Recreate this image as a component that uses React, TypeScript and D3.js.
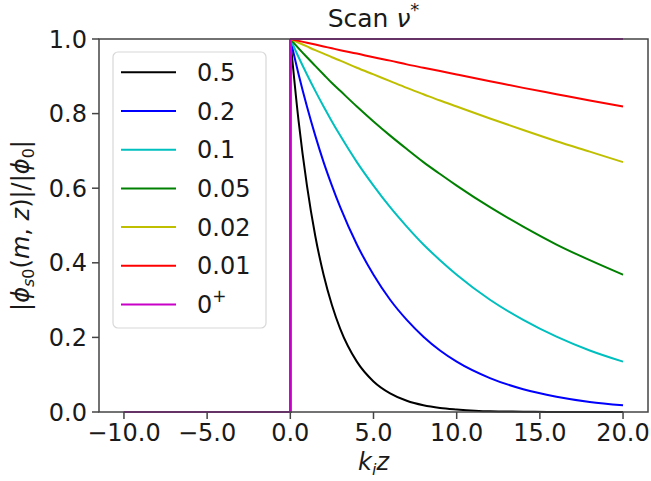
import React from "react";
import * as d3 from "d3";

const zGrid = [0, 0.5, 1, 1.5, 2, 2.5, 3, 4, 5, 6, 7, 8, 9, 10, 12, 14, 16, 18, 20];
const seriesLabels = ["0.5", "0.2", "0.1", "0.05", "0.02", "0.01", "0+"];
const seriesColors = ["#000000", "#0000ff", "#00bfbf", "#008000", "#bfbf00", "#ff0000", "#c800c8"];
const v05 = [1, 0.779, 0.607, 0.472, 0.368, 0.287, 0.223, 0.135, 0.082, 0.05, 0.03, 0.018, 0.011, 0.007, 0.002, 0.001, 0.0, 0.0, 0.0];
const v02 = [1, 0.905, 0.819, 0.741, 0.67, 0.607, 0.549, 0.449, 0.368, 0.301, 0.247, 0.202, 0.165, 0.135, 0.091, 0.061, 0.041, 0.027, 0.018];
const v01 = [1, 0.951, 0.905, 0.861, 0.819, 0.779, 0.741, 0.67, 0.607, 0.549, 0.497, 0.449, 0.407, 0.368, 0.301, 0.247, 0.202, 0.165, 0.135];
const v005 = [1, 0.975, 0.951, 0.928, 0.905, 0.882, 0.861, 0.819, 0.779, 0.741, 0.705, 0.67, 0.638, 0.607, 0.549, 0.497, 0.449, 0.407, 0.368];
const v002 = [1, 0.99, 0.98, 0.97, 0.961, 0.951, 0.942, 0.923, 0.905, 0.887, 0.869, 0.852, 0.835, 0.819, 0.787, 0.756, 0.726, 0.698, 0.67];
const v001 = [1, 0.995, 0.99, 0.985, 0.98, 0.975, 0.97, 0.961, 0.951, 0.942, 0.932, 0.923, 0.914, 0.905, 0.887, 0.869, 0.852, 0.835, 0.819];
const v0p = [1, 1, 1, 1, 1, 1, 1, 1, 1, 1, 1, 1, 1, 1, 1, 1, 1, 1, 1];
const seriesValues = [v05, v02, v01, v005, v002, v001, v0p];
const stepZ = [-10, 0, 0];
const stepV = [0, 0, 1];
const xTicks = [-10, -5, 0, 5, 10, 15, 20];
const yTicks = [0, 0.2, 0.4, 0.6, 0.8, 1.0];

const W = 651, H = 481;
const L = 99, R = 648, T = 39, B = 412;
const FONT = "DejaVu Sans, sans-serif";
const TXT = "#1a1a1a";

export default function App() {
  const x = d3.scaleLinear().domain([-11.5, 21.5]).range([L, R]);
  const y = d3.scaleLinear().domain([0, 1]).range([B, T]);
  const curve = d3.line<[number, number]>().x(d => x(d[0])).y(d => y(d[1])).curve(d3.curveMonotoneX);
  const step = d3.line<[number, number]>().x(d => x(d[0])).y(d => y(d[1]));
  const fmt = (v: number) => (v < 0 ? "\u2212" : "") + Math.abs(v).toFixed(1);

  const legX = 113, legY = 52, legW = 153, legH = 276;
  const rowY0 = 72.3, rowDy = 38.7;

  return (
    <svg width={W} height={H} style={{ position: "absolute", left: 0, top: 0 }} fontFamily={FONT}>
      <rect x={0} y={0} width={W} height={H} fill="#fff" />
      {seriesValues.map((vals, i) => (
        <g key={i}>
          <path d={step(stepZ.map((z, j) => [z, stepV[j]]) as [number, number][]) || ""} fill="none" stroke={seriesColors[i]} strokeWidth={2} />
          <path d={curve(zGrid.map((z, j) => [z, vals[j]]) as [number, number][]) || ""} fill="none" stroke={seriesColors[i]} strokeWidth={2} />
        </g>
      ))}
      <rect x={L} y={T} width={R - L} height={B - T} fill="none" stroke="#444" strokeWidth={1.5} />
      {xTicks.map(t => (
        <g key={"x" + t}>
          <line x1={x(t)} x2={x(t)} y1={B} y2={B + 7} stroke="#444" strokeWidth={1.5} />
          <text x={x(t)} y={441} textAnchor="middle" fontSize={24} fill={TXT}>{fmt(t)}</text>
        </g>
      ))}
      {yTicks.map(t => (
        <g key={"y" + t}>
          <line x1={L - 7} x2={L} y1={y(t)} y2={y(t)} stroke="#444" strokeWidth={1.5} />
          <text x={87} y={y(t) + 8.5} textAnchor="end" fontSize={24} fill={TXT}>{fmt(t)}</text>
        </g>
      ))}
      <rect x={legX} y={legY} width={legW} height={legH} rx={5} fill="#fff" fillOpacity={0.8} stroke="#d8d8d8" strokeWidth={1.2} />
      {seriesLabels.map((lab, i) => {
        const yy = rowY0 + i * rowDy;
        return (
          <g key={"l" + i}>
            <line x1={121} x2={176} y1={yy} y2={yy} stroke={seriesColors[i]} strokeWidth={2} />
            {lab === "0+" ? (
              <text x={197} y={yy + 8.5} fontSize={24} fill={TXT}>0<tspan dy={-11} fontSize={17}>+</tspan></text>
            ) : (
              <text x={197} y={yy + 8.5} fontSize={24} fill={TXT}>{lab}</text>
            )}
          </g>
        );
      })}
      <text x={(L + R) / 2} y={27} textAnchor="middle" fontSize={25} fill={TXT}>
        Scan <tspan fontStyle="italic">ν</tspan><tspan dy={-11} fontSize={18}>*</tspan>
      </text>
      <text x={(L + R) / 2} y={470} textAnchor="middle" fontSize={24} fill={TXT}>
        <tspan fontStyle="italic">k</tspan><tspan fontStyle="italic" fontSize={16} dy={5}>i</tspan><tspan fontStyle="italic" dy={-5}>z</tspan>
      </text>
      <text transform={`translate(29,${(T + B) / 2}) rotate(-90)`} textAnchor="middle" fontSize={24} fill={TXT}>
        |<tspan fontStyle="italic">ϕ</tspan><tspan fontSize={16} dy={5} fontStyle="italic">s</tspan><tspan fontSize={16}>0</tspan><tspan dy={-5}>(</tspan><tspan fontStyle="italic">m</tspan>, <tspan fontStyle="italic">z</tspan>)|/|<tspan fontStyle="italic">ϕ</tspan><tspan fontSize={16} dy={5}>0</tspan><tspan dy={-5}>|</tspan>
      </text>
    </svg>
  );
}
